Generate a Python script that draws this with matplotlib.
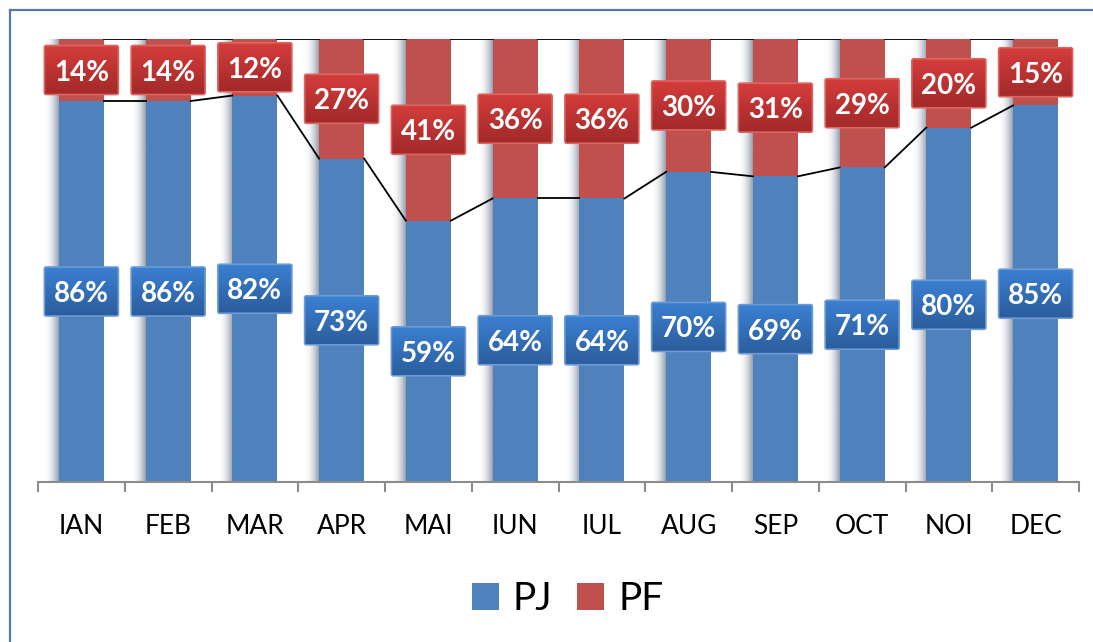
import matplotlib.pyplot as plt
import numpy as np
from matplotlib.colors import to_rgb
from matplotlib.lines import Line2D
from matplotlib.patches import FancyBboxPatch, Rectangle

plt.rcParams["font.family"] = ["Lato", "DejaVu Sans"]

MONTHS = ["IAN", "FEB", "MAR", "APR", "MAI", "IUN", "IUL", "AUG", "SEP", "OCT", "NOI", "DEC"]
PJ = [86, 86, 82, 73, 59, 64, 64, 70, 69, 71, 80, 85]
PF = [14, 14, 12, 27, 41, 36, 36, 30, 31, 29, 20, 15]

BLUE = "#4F81BD"
RED = "#C0504D"
BAR_WIDTH = 0.52
W, H = 1093, 642


def vertical_gradient(ax, patch, extent, top, bottom, zorder):
    c_top = np.array(to_rgb(top))
    c_bot = np.array(to_rgb(bottom))
    t = np.linspace(0, 1, 64)[:, None]
    img = (c_top * (1 - t) + c_bot * t)[:, None, :]
    im = ax.imshow(img, extent=extent, aspect="auto", zorder=zorder,
                   interpolation="bilinear", origin="upper")
    im.set_clip_path(patch)


def bar_shadow(ax, x_right, height, width):
    rgba = np.zeros((1, 64, 4))
    rgba[..., :3] = to_rgb("#6f7d92")
    rgba[0, :, 3] = np.linspace(0, 1, 64) ** 2 * 0.75
    ax.imshow(rgba, extent=[x_right - width, x_right, 0, height], aspect="auto",
              zorder=1, interpolation="bilinear")


def main() -> None:
    fig = plt.figure(figsize=(W / 100, H / 100), dpi=100)
    ax = fig.add_axes([38 / W, 1 - 482 / H, 1041 / W, 443 / H])

    pj = np.array(PJ, dtype=float)
    pf = np.array(PF, dtype=float)
    total = pj + pf
    pj_share = pj / total
    pf_share = pf / total
    x = np.arange(len(MONTHS))

    for xi in x:
        bar_shadow(ax, xi - BAR_WIDTH / 2, 1.0, 0.17)

    ax.bar(x, pj_share, BAR_WIDTH, color=BLUE, zorder=2)
    ax.bar(x, pf_share, BAR_WIDTH, bottom=pj_share, color=RED, zorder=2)

    # series lines between neighbouring bars
    for i in range(len(x) - 1):
        x0 = x[i] + BAR_WIDTH / 2
        x1 = x[i + 1] - BAR_WIDTH / 2
        ax.plot([x0, x1], [pj_share[i], pj_share[i + 1]], color="black", lw=1.3, zorder=3)
        ax.plot([x0, x1], [1.0, 1.0], color="black", lw=1.3, zorder=3)

    box_w = 74 / 86.75
    box_h = 49 / 443
    labels = [
        (pj_share / 2, PJ, ("#3b80d2", "#2b5d9c"), "#6d9ad6"),
        (pj_share + pf_share / 2, PF, ("#d43d3b", "#a2292a"), "#dc6461"),
    ]
    for centers, values, (c_top, c_bot), edge in labels:
        for xi, yc, v in zip(x, centers, values):
            x0, y0 = xi - box_w / 2, yc - box_h / 2
            patch = FancyBboxPatch((x0, y0), box_w, box_h,
                                   boxstyle="round,pad=0,rounding_size=0.02",
                                   mutation_aspect=0.2,
                                   facecolor="none", edgecolor=edge, lw=1.2, zorder=5)
            ax.add_patch(patch)
            vertical_gradient(ax, patch, [x0, x0 + box_w, y0, y0 + box_h], c_top, c_bot, 4)
            ax.text(xi, yc, f"{v}%", ha="center", va="center_baseline", color="white",
                    fontsize=20, fontweight="bold", zorder=6)

    for xi, name in zip(x, MONTHS):
        ax.text(xi, -0.1174, name, ha="center", va="baseline", fontsize=19, color="black")

    ax.set_xlim(-0.5, len(MONTHS) - 0.5)
    ax.set_ylim(0, 1)
    ax.set_xticks(np.arange(-0.5, len(MONTHS), 1.0))
    ax.set_xticklabels([])
    ax.set_yticks([])
    ax.tick_params(axis="x", length=7.2, width=1.5, color="#8c8c8c", direction="out")
    for side in ("top", "left", "right"):
        ax.spines[side].set_visible(False)
    ax.spines["bottom"].set_color("#8c8c8c")
    ax.spines["bottom"].set_linewidth(1.5)
    ax.patch.set_alpha(0)

    # legend
    for sx, col, name in [(472, BLUE, "PJ"), (577, RED, "PF")]:
        fig.patches.append(Rectangle((sx / W, 1 - 610 / H), 27 / W, 27 / H,
                                     transform=fig.transFigure, facecolor=col,
                                     edgecolor="none"))
        fig.text((sx + 41) / W, 1 - 610 / H, name, fontsize=28, va="baseline",
                 ha="left", color="black")

    # outer frame
    frame_col = "#58789f"
    fig.lines.append(Line2D([9.8 / W, 9.8 / W], [-0.01, 1 - 10.2 / H],
                            transform=fig.transFigure, color=frame_col, lw=1.6))
    fig.lines.append(Line2D([9.8 / W, 1.01], [1 - 10.2 / H, 1 - 10.2 / H],
                            transform=fig.transFigure, color=frame_col, lw=1.6))

    fig.savefig("out.png", dpi=100)
    plt.close(fig)


if __name__ == "__main__":
    main()
